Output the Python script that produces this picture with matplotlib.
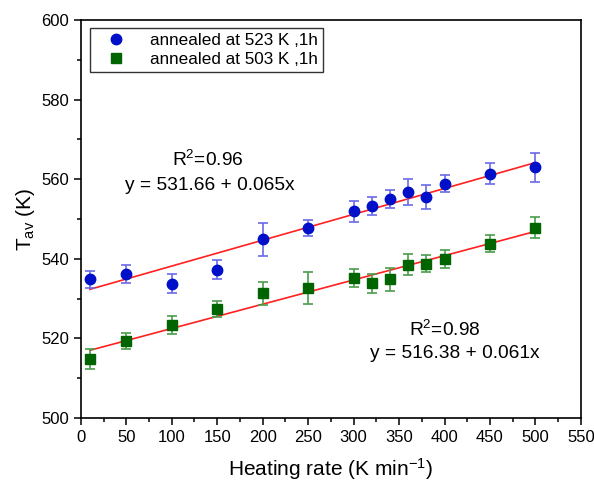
import matplotlib
matplotlib.use('Agg')
import matplotlib.pyplot as plt
from matplotlib.ticker import MultipleLocator
from matplotlib.lines import Line2D
from matplotlib.legend_handler import HandlerLine2D
import numpy as np

plt.rcParams['font.family'] = ['Liberation Sans', 'DejaVu Sans']
plt.rcParams['mathtext.fontset'] = 'custom'
plt.rcParams['mathtext.rm'] = 'Liberation Sans'
plt.rcParams['mathtext.it'] = 'Liberation Sans:italic'

# heating rates (K/min)
rate = [10, 50, 100, 150, 200, 250, 300, 320, 340, 360, 380, 400, 450, 500]

# annealed at 523 K
t523 = [534.8, 536.1, 533.7, 537.2, 544.9, 547.8, 551.9, 553.2, 555.0, 556.7, 555.5, 558.9, 561.4, 563.0]
e523 = [2.1, 2.3, 2.4, 2.4, 4.1, 2.0, 2.6, 2.3, 2.3, 3.3, 3.0, 2.2, 2.7, 3.6]

# annealed at 503 K
t503 = [514.8, 519.3, 523.3, 527.4, 531.3, 532.7, 535.2, 533.8, 534.8, 538.5, 538.8, 540.0, 543.8, 547.8]
e503 = [2.4, 2.1, 2.3, 2.1, 2.9, 4.0, 2.3, 2.4, 2.8, 2.6, 2.2, 2.2, 2.1, 2.7]

# linear fits as given on the chart
fit523 = (531.66, 0.065)
fit503 = (516.38, 0.061)

blue = '#0010c8'
green = '#006400'

fig = plt.figure(figsize=(5.94, 4.86), dpi=100)
ax = fig.add_axes([0.136, 0.140, 0.842, 0.819])

xf = np.array([rate[0], rate[-1]])
ax.plot(xf, fit523[0] + fit523[1] * xf, color='#ff2020', lw=1.2, zorder=2)
ax.plot(xf, fit503[0] + fit503[1] * xf, color='#ff2020', lw=1.2, zorder=2)

ax.errorbar(rate, t523, yerr=e523, fmt='o', color=blue, ms=7.5,
            ecolor='#6a6ae6', elinewidth=1.2, capsize=3.5, capthick=1.2, zorder=3)
ax.errorbar(rate, t503, yerr=e503, fmt='s', color=green, ms=6.5,
            ecolor='#4c9c4c', elinewidth=1.2, capsize=3.5, capthick=1.2, zorder=3)

fs_txt = 13.8
ax.text(140, 564.8, 'R$^2$=0.96', fontsize=fs_txt, ha='center', va='center')
ax.text(142, 558.5, 'y = 531.66 + 0.065x', fontsize=fs_txt, ha='center', va='center')
ax.text(400, 522.2, 'R$^2$=0.98', fontsize=fs_txt, ha='center', va='center')
ax.text(411, 516.1, 'y = 516.38 + 0.061x', fontsize=fs_txt, ha='center', va='center')

ax.set_xlim(0, 550)
ax.set_ylim(500, 600)
ax.xaxis.set_major_locator(MultipleLocator(50))
ax.xaxis.set_minor_locator(MultipleLocator(25))
ax.yaxis.set_major_locator(MultipleLocator(20))
ax.yaxis.set_minor_locator(MultipleLocator(10))
ax.tick_params(which='major', direction='out', length=5, width=1.1, labelsize=12)
ax.tick_params(which='minor', direction='out', length=3, width=1.1)
for s in ax.spines.values():
    s.set_linewidth(1.2)

ax.set_xlabel('Heating rate (K min$^{\\mathregular{-1}}$)', fontsize=15, labelpad=8)
ax.set_ylabel('T$_{\\mathregular{av}}$ (K)', fontsize=15, labelpad=3)

handles = [Line2D([], [], ls='none', marker='o', ms=7.5, color=blue),
           Line2D([], [], ls='none', marker='s', ms=6.5, color=green)]
labels = ['annealed at 523 K ,1h', 'annealed at 503 K ,1h']
hmap = {h: HandlerLine2D(xpad=-0.5) for h in handles}
leg = ax.legend(handles, labels, handler_map=hmap, loc='upper left',
                bbox_to_anchor=(0.018, 0.98), borderaxespad=0, fontsize=12.3,
                frameon=True, fancybox=False, edgecolor='black',
                handlelength=3.0, handletextpad=0.2, borderpad=0.3,
                labelspacing=0.25)
leg.get_frame().set_linewidth(1.0)

fig.savefig('out.png', dpi=100)
